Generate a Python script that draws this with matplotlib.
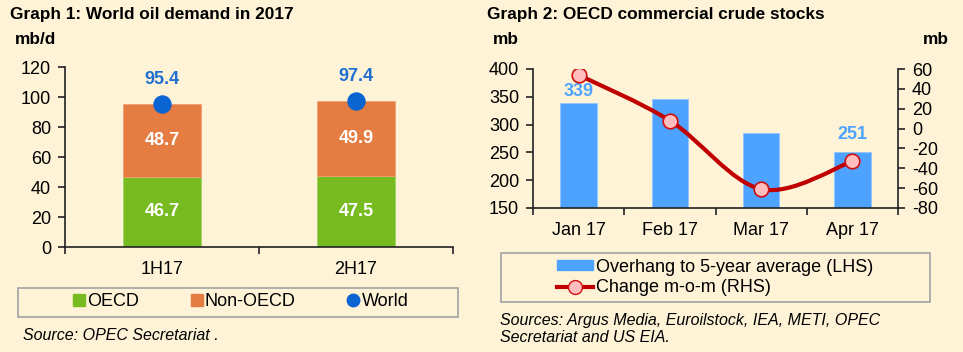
import numpy as np
import matplotlib
matplotlib.use('Agg')
import matplotlib.pyplot as plt
from matplotlib.patches import Rectangle, PathPatch
from matplotlib.path import Path
from matplotlib.lines import Line2D

plt.rcParams['font.family'] = ['Liberation Sans', 'DejaVu Sans']
plt.rcParams['axes.unicode_minus'] = False

# Graph 1 data
periods = ['1H17', '2H17']
oecd = [46.7, 47.5]
non_oecd = [48.7, 49.9]
world = [95.4, 97.4]

# Graph 2 data
months = ['Jan 17', 'Feb 17', 'Mar 17', 'Apr 17']
overhang = [339, 346, 285, 251]
change_mom = [54, 8, -61, -33]

bg = '#FEF3D7'
green = '#77BB21'
orange = '#E57C41'
world_blue = '#0A64D2'
bar_blue = '#4DA3FF'
line_red = '#C00000'
pink = '#FFBDBD'
axis_col = '#222222'

W, H = 963, 352
FS = 13


def fx(px):
    return px / W


def fy(py):
    return 1 - py / H


def smooth_path(xs, ys):
    # Excel-style smoothed line: cubic bezier between points
    pts = np.column_stack([xs, ys]).astype(float)
    n = len(pts)
    verts = [pts[0]]
    codes = [Path.MOVETO]
    for i in range(n - 1):
        p0 = pts[max(i - 1, 0)]
        p1 = pts[i]
        p2 = pts[i + 1]
        p3 = pts[min(i + 2, n - 1)]
        c1 = p1 + (p2 - p0) / 6
        c2 = p2 - (p3 - p1) / 6
        verts += [c1, c2, p2]
        codes += [Path.CURVE4] * 3
    return Path(verts, codes)


def style_axis(ax):
    ax.set_facecolor('none')
    for s in ['top', 'right']:
        ax.spines[s].set_visible(False)
    for s in ['left', 'bottom']:
        ax.spines[s].set_color(axis_col)
        ax.spines[s].set_linewidth(1.2)
    ax.tick_params(axis='both', which='major', length=5, width=1.2,
                   color=axis_col, labelsize=FS, pad=4)


fig = plt.figure(figsize=(W / 100, H / 100), dpi=100, facecolor=bg)

# ---------------- Graph 1 ----------------
ax1 = fig.add_axes([fx(65), fy(247), fx(453) - fx(65), fy(67) - fy(247)])
style_axis(ax1)
x1 = np.arange(len(periods))
ax1.bar(x1, oecd, width=0.4, color=green, edgecolor='#9ED46A', linewidth=0.6)
ax1.bar(x1, non_oecd, width=0.4, bottom=oecd, color=orange,
        edgecolor='#F0A070', linewidth=0.6)
ax1.scatter(x1, world, s=150, color=world_blue, zorder=3)
for i in range(len(periods)):
    ax1.text(x1[i], oecd[i] / 2, f'{oecd[i]:.1f}', ha='center', va='center',
             color='white', fontsize=FS, fontweight='bold')
    ax1.text(x1[i], oecd[i] + non_oecd[i] / 2, f'{non_oecd[i]:.1f}',
             ha='center', va='center', color='white', fontsize=FS,
             fontweight='bold')
    ax1.text(x1[i], world[i] + 16, f'{world[i]:.1f}', ha='center',
             va='center', color='#1F6FD0', fontsize=FS, fontweight='bold')
ax1.set_xlim(-0.5, 1.5)
ax1.set_ylim(0, 120)
ax1.set_yticks(range(0, 121, 20))
ax1.set_xticks([-0.5, 0.5, 1.5])
ax1.set_xticklabels([])
ax1.set_xticks(x1, minor=True)
ax1.set_xticklabels(periods, minor=True)
ax1.tick_params(axis='x', which='minor', length=0, labelsize=FS, pad=10)
ax1.tick_params(axis='y', pad=5)

fig.text(fx(10), fy(14), 'Graph 1: World oil demand in 2017', fontsize=12.4,
         fontweight='bold', ha='left', va='center')
fig.text(fx(15), fy(40), 'mb/d', fontsize=12.4, fontweight='bold',
         ha='left', va='center')

fig.patches.append(Rectangle((fx(18), fy(317)), fx(458) - fx(18),
                             fy(288) - fy(317), transform=fig.transFigure,
                             facecolor='none', edgecolor='#A8A8A8', lw=1.3))
h1 = [Line2D([], [], ls='none', marker='s', ms=9, color=green),
      Line2D([], [], ls='none', marker='s', ms=9, color=orange),
      Line2D([], [], ls='none', marker='o', ms=9, color=world_blue)]
fig.legend(h1, ['OECD', 'Non-OECD', 'World'], loc='center',
           bbox_to_anchor=(fx(241), fy(302)), ncol=3, frameon=False,
           fontsize=FS, handlelength=0.6, handletextpad=0.15,
           columnspacing=2.9)
fig.text(fx(23), fy(336), 'Source: OPEC Secretariat .', fontsize=11.5,
         style='italic', ha='left', va='center')

# ---------------- Graph 2 ----------------
ax2 = fig.add_axes([fx(533), fy(208), fx(898) - fx(533), fy(69) - fy(208)])
style_axis(ax2)
x2 = np.arange(len(months))
ax2.bar(x2, overhang, width=0.4, color=bar_blue, edgecolor='#8EC5FF',
        linewidth=0.6)
ax2.set_xlim(-0.5, 3.5)
ax2.set_ylim(150, 400)
ax2.set_yticks(range(150, 401, 50))
ax2.set_xticks([-0.5, 0.5, 1.5, 2.5, 3.5])
ax2.set_xticklabels([])
ax2.set_xticks(x2, minor=True)
ax2.set_xticklabels(months, minor=True)
ax2.tick_params(axis='x', which='minor', length=0, labelsize=FS, pad=10)
ax2.tick_params(axis='y', pad=5)
ax2.text(x2[0], overhang[0] + 20, str(overhang[0]), ha='center',
         va='center', color=bar_blue, fontsize=FS, fontweight='bold')
ax2.text(x2[3], overhang[3] + 32, str(overhang[3]), ha='center',
         va='center', color=bar_blue, fontsize=FS, fontweight='bold')

ax3 = ax2.twinx()
ax3.set_facecolor('none')
for s in ['top', 'left', 'bottom']:
    ax3.spines[s].set_visible(False)
ax3.spines['right'].set_color(axis_col)
ax3.spines['right'].set_linewidth(1.2)
ax3.set_ylim(-80, 60)
ax3.set_yticks(range(-80, 61, 20))
ax3.tick_params(axis='y', length=5, width=1.2, color=axis_col,
                labelsize=FS, pad=5)
ax3.add_patch(PathPatch(smooth_path(x2, change_mom), facecolor='none',
                        edgecolor=line_red, lw=3, capstyle='round',
                        zorder=3))
ax3.plot(x2, change_mom, ls='none', marker='o', ms=10.5,
         markerfacecolor=pink, markeredgecolor='#D01010',
         markeredgewidth=1.2, zorder=4)

fig.text(fx(487), fy(14), 'Graph 2: OECD commercial crude stocks',
         fontsize=12.4, fontweight='bold', ha='left', va='center')
fig.text(fx(493), fy(40), 'mb', fontsize=12.4, fontweight='bold',
         ha='left', va='center')
fig.text(fx(923), fy(40), 'mb', fontsize=12.4, fontweight='bold',
         ha='left', va='center')

fig.patches.append(Rectangle((fx(501), fy(302)), fx(930) - fx(501),
                             fy(253) - fy(302), transform=fig.transFigure,
                             facecolor='none', edgecolor='#A8A8A8', lw=1.3))
h2 = [Rectangle((0, 0), 1, 1, color=bar_blue),
      Line2D([], [], color=line_red, lw=3, marker='o', ms=10,
             markerfacecolor=pink, markeredgecolor='#D01010')]
fig.legend(h2, ['Overhang to 5-year average (LHS)', 'Change m-o-m (RHS)'],
           loc='center', bbox_to_anchor=(fx(715), fy(277.5)), ncol=1,
           frameon=False, fontsize=FS, handlelength=2.0, handleheight=0.45,
           handletextpad=0.2, labelspacing=0.2)
fig.text(fx(500), fy(320), 'Sources: Argus Media, Euroilstock, IEA, METI, OPEC',
         fontsize=11.5, style='italic', ha='left', va='center')
fig.text(fx(500), fy(338), 'Secretariat and US EIA.', fontsize=11.5,
         style='italic', ha='left', va='center')

fig.savefig('out.png', dpi=100, facecolor=bg)
